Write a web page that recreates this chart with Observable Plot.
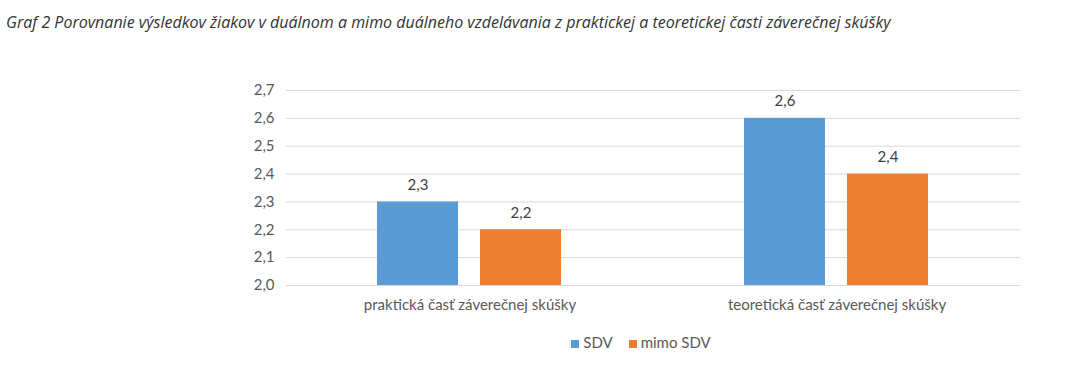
<!DOCTYPE html>
<html>
<head>
<meta charset="utf-8">
<script src="https://cdn.jsdelivr.net/npm/d3@7"></script>
<script src="https://cdn.jsdelivr.net/npm/@observablehq/plot@0.6"></script>
<style>
  body { margin: 0; background: #fff; }
  #title { font-family: "Open Sans", sans-serif; font-style: italic; font-size: 16px; line-height: 20px; color: #333; padding: 12px 0 0 6px; height: 33px; box-sizing: border-box; }
  #legend { font-family: Lato, sans-serif; font-size: 15px; color: #595959; display: flex; justify-content: center; gap: 16px; width: 1282px; margin-top: 13px; }
  #legend span.sw { display: inline-block; width: 8px; height: 8px; margin-right: 4px; vertical-align: 0px; }
</style>
</head>
<body>
<div id="title">Graf 2 Porovnanie výsledkov žiakov v duálnom a mimo duálneho vzdelávania z praktickej a teoretickej časti záverečnej skúšky</div>
<div id="chart"></div>
<div id="legend"></div>
<script>
const categories = ["praktická časť záverečnej skúšky", "teoretická časť záverečnej skúšky"];
const series = ["SDV", "mimo SDV"];
const sdvValues = [2.3, 2.6];
const mimoValues = [2.2, 2.4];
const yTicks = [2.0, 2.1, 2.2, 2.3, 2.4, 2.5, 2.6, 2.7];
const colors = ["#5b9bd5", "#ed7d31"];

const data = [];
categories.forEach((c, i) => {
  data.push({cat: c, s: series[0], v: sdvValues[i]});
  data.push({cat: c, s: series[1], v: mimoValues[i]});
});
const fmt = d => d.toFixed(1).replace(".", ",");

const chart = Plot.plot({
  width: 1070,
  height: 287,
  marginTop: 57,
  marginBottom: 35,
  marginLeft: 285,
  marginRight: 50,
  style: {fontFamily: "Lato, sans-serif", fontSize: "15px", color: "#595959"},
  fx: {domain: categories, padding: 0, axis: "bottom", label: null, tickSize: 0, tickPadding: 14},
  x: {domain: series, axis: null, paddingInner: 0.2115, paddingOuter: 0.873},
  y: {domain: [yTicks[0], yTicks[yTicks.length - 1]], ticks: yTicks, tickFormat: fmt, tickSize: 0, tickPadding: 12, label: null},
  color: {domain: series, range: colors},
  marks: [
    Plot.ruleY(yTicks, {stroke: "#d9d9d9", strokeWidth: 1}),
    Plot.barY(data, {fx: "cat", x: "s", y1: yTicks[0], y2: "v", fill: "s"}),
    Plot.text(data, {fx: "cat", x: "s", y: "v", text: d => fmt(d.v), dy: -17, fill: "#404040", fontSize: 15})
  ]
});
document.getElementById("chart").appendChild(chart);

const legend = document.getElementById("legend");
series.forEach((s, i) => {
  const item = document.createElement("span");
  item.innerHTML = `<span class="sw" style="background:${colors[i]}"></span>${s}`;
  legend.appendChild(item);
});
</script>
</body>
</html>
